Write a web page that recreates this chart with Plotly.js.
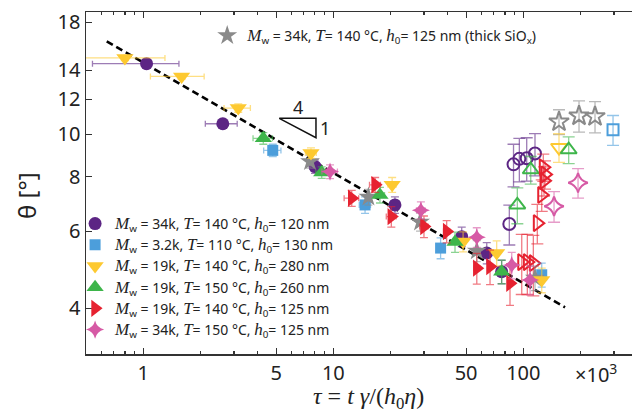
<!DOCTYPE html>
<html><head><meta charset="utf-8">
<script src="https://cdn.plot.ly/plotly-3.0.1.min.js"></script>
<style>html,body{margin:0;padding:0;background:#fff}</style>
</head><body><div id="chart" style="width:632px;height:416px"></div>
<script>
// ---- data ----
// purple circles: Mw=34k, T=140 C, h0=120 nm
const purpleTau = [1.04, 2.62, 8.01, 21.1, 47.4, 64.2, 76.9];
const purpleTheta = [14.49, 10.56, 8.43, 6.89, 5.83, 5.35, 4.85];
const purpleErrX = [0.5, 0.5, 0.5, 1, 1.5, 2, 2];
const purpleErrY = [0.25, 0.25, 0.3, 0.3, 0.3, 0.3, 0.3];
const purpleOpenTau = [84.4, 88.8, 95.3, 104.2, 115.2];
const purpleOpenTheta = [6.23, 8.53, 8.78, 8.81, 9.03];
const purpleOpenErrY = [0.65, 0.95, 1.0, 1.0, 1.0];
// blue squares: Mw=3.2k, T=110 C, h0=130 nm
const blueTau = [4.80, 14.69, 36.7, 125.0];
const blueTheta = [9.18, 6.89, 5.49, 4.77];
const blueErrX = [0.5, 1, 1.5, 2];
const blueErrY = [0.3, 0.3, 0.3, 0.3];
const blueOpenTau = [296.6];
const blueOpenTheta = [10.23];
const blueOpenErrY = [0.8];
// yellow down triangles: Mw=19k, T=140 C, h0=280 nm
const yellowTau = [0.80, 1.59, 3.16, 7.63, 20.4, 48.2, 72.4, 125.0];
const yellowTheta = [14.93, 13.55, 11.47, 9.05, 7.66, 5.68, 5.35, 4.64];
const yellowErrX = [0.5, 0.5, 0.5, 0.5, 1, 1.5, 2, 2];
const yellowErrY = [0.2, 0.2, 0.25, 0.25, 0.3, 0.3, 0.35, 0.3];
const yellowOpenTau = [154.1];
const yellowOpenTheta = [9.32];
const yellowOpenErrY = [0.7];
// green up triangles: Mw=19k, T=150 C, h0=260 nm
const greenTau = [4.28, 8.69, 17.6, 43.7, 76.9];
const greenTheta = [9.78, 8.17, 7.26, 5.67, 4.85];
const greenErrX = [0.5, 0.6, 1, 1.5, 2];
const greenErrY = [0.3, 0.25, 0.3, 0.3, 0.3];
const greenOpenTau = [93.0, 109.4, 173.3];
const greenOpenTheta = [6.89, 8.29, 9.21];
const greenOpenErrY = [0.65, 0.6, 0.65];
// red right triangles: Mw=19k, T=140 C, h0=125 nm
const redTau = [12.5, 16.6, 20.2, 30.0, 39.5, 56.9, 66.8, 85.1];
const redTheta = [7.14, 7.66, 6.48, 6.15, 5.99, 4.94, 4.98, 4.56];
const redErrX = [1.1, 1.1, 1.2, 1.5, 1.5, 2, 2, 2];
const redErrY = [0.3, 0.3, 0.35, 0.35, 0.35, 0.4, 0.45, 0.5];
const redOpenTau = [98.1, 105.0, 112.9, 118.5, 125.0, 128.5, 130.1, 127.4];
const redOpenTheta = [5.10, 5.10, 5.07, 6.26, 7.26, 7.82, 8.09, 8.40];
const redOpenErrY = [0.8, 0.8, 0.8, 0.65, 0.6, 0.6, 0.6, 0.6];
// pink 4-point stars: Mw=34k, T=150 C, h0=125 nm
const pinkTau = [9.61, 28.9, 56.9, 86.9, 108.5];
const pinkTheta = [8.21, 6.70, 5.81, 5.02, 4.64];
const pinkErrX = [0.9, 1.5, 2, 2, 2];
const pinkErrY = [0.3, 0.3, 0.3, 0.35, 0.35];
const pinkOpenTau = [145.1, 194.1];
const pinkOpenTheta = [6.84, 7.74];
const pinkOpenErrY = [0.55, 0.6];
// gray stars: Mw=34k, T=140 C, h0=125 nm (thick SiOx)
const grayTau = [7.54, 15.3, 28.6, 56.9, 115.2];
const grayTheta = [8.66, 7.18, 6.30, 5.41, 4.69];
const grayErrY = [0.3, 0.3, 0.3, 0.3, 0.3];
const grayOpenTau = [154.1, 196.4, 238.4];
const grayOpenTheta = [10.67, 11.01, 10.97];
const grayOpenErrY = [0.7, 0.9, 0.9];
// dashed power-law guide (end points)
const guideTau = [0.642, 165.8];
const guideTheta = [16.29, 4.02];
// legend labels
const mwLabels = ['34k', '3.2k', '19k', '19k', '19k', '34k'];
const tLabels = ['140', '110', '140', '150', '140', '150'];
const h0Labels = ['120', '130', '280', '260', '125', '125'];
// axis ticks
const xTickVals = [1, 5, 10, 50, 100];
const xMinorVals = [0.6, 0.7, 0.8, 0.9, 2, 3, 4, 6, 7, 8, 9, 20, 30, 40, 60, 70, 80, 90, 200, 300];
const yTickVals = [4, 6, 8, 10, 12, 14, 18];

// ---- styling ----
const SERIF = "'Liberation Serif', 'DejaVu Serif', serif";
const SANS = "'Noto Sans', 'Open Sans', sans-serif";
const mi = s => `<span style="font-family:${SERIF};font-style:italic">${s}</span>`;
const ml = s => `<span style="font-family:${SERIF};font-style:italic;font-size:17px">${s}</span>`;
function label(i) {
  return `${ml('M')}<sub>w</sub> = ${mwLabels[i]}, ${ml('T')}= ${tLabels[i]} °C, ${ml('h')}<sub>0</sub>= ${h0Labels[i]} nm`;
}
function rgba(hex, a) {
  const n = parseInt(hex.slice(1), 16);
  return `rgba(${(n >> 16) & 255},${(n >> 8) & 255},${n & 255},${a})`;
}
const C = {purple: '#5c2584', blue: '#4c9edb', yellow: '#fdc930', green: '#3db54a', red: '#e62230', pink: '#d65aa5', gray: '#8a8a8a'};

function filled(x, y, ex, ey, col, sym, size, name, legend) {
  const t = {
    x: x, y: y, type: 'scatter', mode: 'markers', name: name,
    marker: {symbol: sym, size: size, color: col, line: {width: 0}},
    error_y: {type: 'data', array: ey, visible: true, color: rgba(col, 0.6), thickness: 1.3, width: 4},
    showlegend: !!name
  };
  if (ex) t.error_x = {type: 'data', array: ex, visible: true, color: rgba(col, 0.6), thickness: 1.3, width: 3};
  if (legend) t.legend = legend;
  return t;
}
function open(x, y, ey, col, sym, size) {
  return {
    x: x, y: y, type: 'scatter', mode: 'markers', showlegend: false,
    marker: {symbol: sym, size: size, color: col, line: {width: 2, color: col}},
    error_y: {type: 'data', array: ey, visible: true, color: rgba(col, 0.6), thickness: 1.3, width: 6}
  };
}

const traces = [
  {x: guideTau, y: guideTheta, type: 'scatter', mode: 'lines', showlegend: false,
   line: {color: '#000', width: 2.6, dash: '7px,4px'}},
  open(grayOpenTau, grayOpenTheta, grayOpenErrY, C.gray, 'star-open', 15),
  open(blueOpenTau, blueOpenTheta, blueOpenErrY, C.blue, 'square-open', 11),
  open(yellowOpenTau, yellowOpenTheta, yellowOpenErrY, C.yellow, 'triangle-down-open', 14),
  open(purpleOpenTau, purpleOpenTheta, purpleOpenErrY, C.purple, 'circle-open', 12),
  open(greenOpenTau, greenOpenTheta, greenOpenErrY, C.green, 'triangle-up-open', 14),
  open(redOpenTau, redOpenTheta, redOpenErrY, C.red, 'triangle-right-open', 14),
  open(pinkOpenTau, pinkOpenTheta, pinkOpenErrY, C.pink, 'star-diamond-open', 14),
  filled(purpleTau, purpleTheta, purpleErrX, purpleErrY, C.purple, 'circle', 13, label(0)),
  filled(blueTau, blueTheta, blueErrX, blueErrY, C.blue, 'square', 11, label(1)),
  filled(grayTau, grayTheta, null, grayErrY, C.gray, 'star', 15,
    `${ml('M')}<sub>w</sub> = 34k, ${ml('T')}= 140 °C, ${ml('h')}<sub>0</sub>= 125 nm (thick SiO<sub>x</sub>)`, 'legend2'),
  filled(yellowTau, yellowTheta, yellowErrX, yellowErrY, C.yellow, 'triangle-down', 15, label(2)),
  filled(greenTau, greenTheta, greenErrX, greenErrY, C.green, 'triangle-up', 15, label(3)),
  filled(redTau, redTheta, redErrX, redErrY, C.red, 'triangle-right', 15, label(4)),
  filled(pinkTau, pinkTheta, pinkErrX, pinkErrY, C.pink, 'star-diamond', 13, label(5))
];

const ann = (x, y, text, font, extra) => Object.assign({
  xref: 'paper', yref: 'paper', x: x, y: y, text: text, showarrow: false,
  xanchor: 'center', yanchor: 'middle', font: font
}, extra || {});

const layout = {
  width: 632, height: 416,
  margin: {l: 86, r: 0, t: 12, b: 62},
  paper_bgcolor: '#fff', plot_bgcolor: '#fff',
  font: {family: SANS, color: '#222', size: 14},
  showlegend: true,
  xaxis: {
    type: 'log', range: [Math.log10(0.4993), 2.572],
    tickvals: xTickVals, ticktext: xTickVals.map(String),
    ticks: 'inside', ticklen: 6, tickwidth: 1.2, tickcolor: '#333',
    showline: true, linecolor: '#333', linewidth: 1.5, mirror: 'allticks',
    showgrid: false, zeroline: false,
    tickfont: {family: SANS, size: 20, color: '#222'},
    minor: {tickvals: xMinorVals, ticks: 'inside', ticklen: 3, tickcolor: '#333', showgrid: false}
  },
  yaxis: {
    type: 'log', range: [0.4975, 1.2791],
    tickvals: yTickVals, ticktext: yTickVals.map(String),
    ticks: 'inside', ticklen: 6, tickwidth: 1.2, tickcolor: '#333',
    showline: true, linecolor: '#333', linewidth: 1.5, mirror: false,
    showgrid: false, zeroline: false,
    tickfont: {family: SANS, size: 20, color: '#222'}
  },
  legend: {
    x: -0.02, y: 0.427, xanchor: 'left', yanchor: 'top',
    bgcolor: 'rgba(0,0,0,0)', borderwidth: 0,
    font: {family: SANS, size: 14, color: '#222'},
    itemwidth: 30, tracegroupgap: 0
  },
  legend2: {
    x: 0.222, y: 0.977, xanchor: 'left', yanchor: 'top',
    bgcolor: 'rgba(0,0,0,0)', borderwidth: 0,
    font: {family: SANS, size: 14, color: '#222'},
    itemwidth: 30
  },
  shapes: [
    {type: 'path', xref: 'paper', yref: 'paper',
     path: 'M 0.354 0.6892 L 0.4212 0.6892 L 0.4212 0.6325 Z',
     line: {color: '#111', width: 1.5}, fillcolor: 'rgba(0,0,0,0)'}
  ],
  annotations: [
    ann(0.3877, 0.7213, '4', {family: SANS, size: 18, color: '#222'}),
    ann(0.4377, 0.66, '1', {family: SANS, size: 18, color: '#222'}),
    ann((368 - 86) / 546, (354 - 398) / 342,
      `${mi('τ')} = ${mi('t')} ${mi('γ')}/(${mi('h')}<sub>0</sub>${mi('η')})`,
      {family: SERIF, size: 24, color: '#222'}),
    ann((596 - 86) / 546, (354 - 373) / 342, '×10<sup>3</sup>', {family: SANS, size: 20, color: '#222'}),
    ann((26 - 86) / 546, (354 - 196) / 342, 'θ [°]', {family: SANS, size: 24, color: '#222'}, {textangle: -90})
  ]
};

Plotly.newPlot('chart', traces, layout, {staticPlot: true, displayModeBar: false});
</script></body></html>
